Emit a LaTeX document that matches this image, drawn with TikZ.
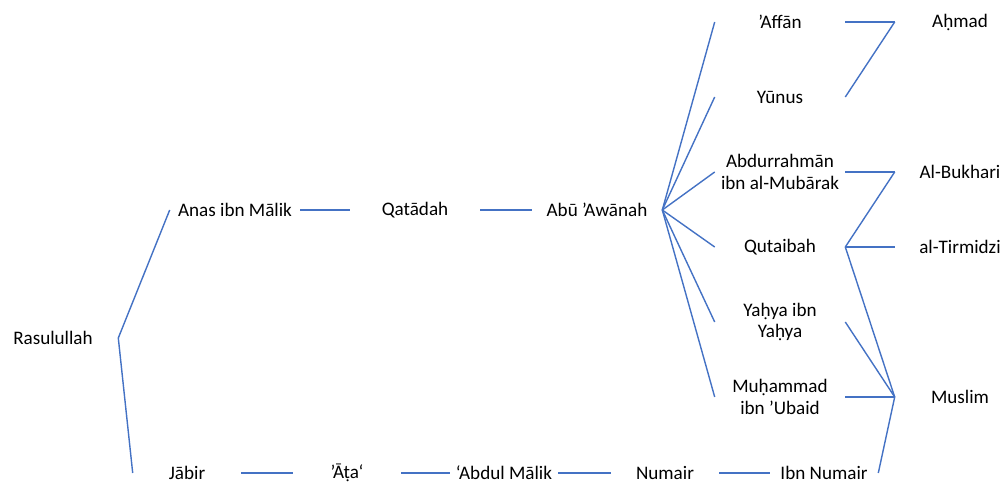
\documentclass[tikz,border=0pt]{standalone}
\usepackage{fontspec}
\setmainfont{Carlito}
\usepackage{tikz}
\definecolor{linkblue}{HTML}{4472C4}
\tikzset{
  person/.style={inner sep=0pt, align=center, font=\fontsize{13.6}{15.5}\selectfont, minimum height=0.5cm},
  wide/.style={person, minimum width=3.25cm},
  narrow/.style={person, minimum width=2.7cm},
  link/.style={draw=linkblue, line width=1pt}
}

\begin{document}
\begin{tikzpicture}[x=0.025cm, y=-0.025cm]
  \useasboundingbox (0,0) rectangle (1008,484);
  \node[wide] (ras) at (53,338) {Rasulullah};
  \node[wide] (anas) at (235,210) {Anas ibn Mālik};
  \node[wide] (qat) at (415,210) {Qatādah};
  \node[wide] (abu) at (597,210) {Abū ’Awānah};
  \node[wide] (affan) at (780,22) {’Affān};
  \node[wide] (yunus) at (780,97) {Yūnus};
  \node[wide] (abdur) at (780,172) {Abdurrahmān\\ibn al-Mubārak};
  \node[wide] (qut) at (780,247) {Qutaibah};
  \node[wide] (yahya) at (780,322) {Yaḥya ibn\\Yaḥya};
  \node[wide] (muh) at (780,397) {Muḥammad\\ibn ’Ubaid};
  \node[wide] (ahmad) at (960,22) {Aḥmad};
  \node[wide] (bukh) at (960,172) {Al-Bukhari};
  \node[wide] (tirm) at (960,247) {al-Tirmidzi};
  \node[wide] (mus) at (960,397) {Muslim};
  \node[narrow] (jabir) at (187,473) {Jābir};
  \node[narrow] (ata) at (347,473) {’Āṭa‘};
  \node[narrow] (abdul) at (504,473) {‘Abdul Mālik};
  \node[narrow] (num) at (665,473) {Numair};
  \node[narrow] (ibnnum) at (824,473) {Ibn Numair};

  \draw[link] (ras.east) -- (anas.west);
  \draw[link] (ras.east) -- (jabir.west);
  \draw[link] (anas.east) -- (qat.west);
  \draw[link] (qat.east) -- (abu.west);
  \foreach \s in {affan,yunus,abdur,qut,yahya,muh}
    \draw[link] (abu.east) -- (\s.west);
  \draw[link] (affan.east) -- (ahmad.west);
  \draw[link] (yunus.east) -- (ahmad.west);
  \draw[link] (abdur.east) -- (bukh.west);
  \draw[link] (qut.east) -- (bukh.west);
  \draw[link] (qut.east) -- (tirm.west);
  \foreach \s in {qut,yahya,muh,ibnnum}
    \draw[link] (\s.east) -- (mus.west);
  \draw[link] (jabir.east) -- (ata.west);
  \draw[link] (ata.east) -- (abdul.west);
  \draw[link] (abdul.east) -- (num.west);
  \draw[link] (num.east) -- (ibnnum.west);
\end{tikzpicture}
\end{document}
